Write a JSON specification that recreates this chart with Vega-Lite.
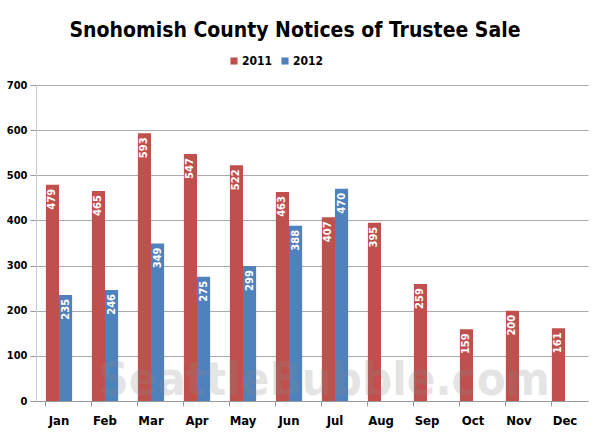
{
  "$schema": "https://vega.github.io/schema/vega-lite/v6.json",
  "autosize": {"type": "none"},
  "width": 552,
  "height": 316,
  "padding": {"left": 36, "top": 85, "right": 12, "bottom": 35},
  "background": "white",
  "config": {
    "view": {"stroke": null},
    "font": "DejaVu Sans Condensed, Liberation Sans, sans-serif"
  },
  "title": {
    "text": "Snohomish County Notices of Trustee Sale",
    "font": "DejaVu Sans Condensed, Liberation Sans, sans-serif",
    "fontSize": 21,
    "fontWeight": "bold",
    "color": "#000000",
    "anchor": "middle",
    "frame": "group",
    "dx": -17,
    "offset": 14
  },
  "data": {
    "values": [
      {"month": "Jan", "year": "2011", "value": 479},
      {"month": "Feb", "year": "2011", "value": 465},
      {"month": "Mar", "year": "2011", "value": 593},
      {"month": "Apr", "year": "2011", "value": 547},
      {"month": "May", "year": "2011", "value": 522},
      {"month": "Jun", "year": "2011", "value": 463},
      {"month": "Jul", "year": "2011", "value": 407},
      {"month": "Aug", "year": "2011", "value": 395},
      {"month": "Sep", "year": "2011", "value": 259},
      {"month": "Oct", "year": "2011", "value": 159},
      {"month": "Nov", "year": "2011", "value": 200},
      {"month": "Dec", "year": "2011", "value": 161},
      {"month": "Jan", "year": "2012", "value": 235},
      {"month": "Feb", "year": "2012", "value": 246},
      {"month": "Mar", "year": "2012", "value": 349},
      {"month": "Apr", "year": "2012", "value": 275},
      {"month": "May", "year": "2012", "value": 299},
      {"month": "Jun", "year": "2012", "value": 388},
      {"month": "Jul", "year": "2012", "value": 470}
    ]
  },
  "encoding": {
    "x": {
      "field": "month",
      "type": "nominal",
      "sort": ["Jan", "Feb", "Mar", "Apr", "May", "Jun", "Jul", "Aug", "Sep", "Oct", "Nov", "Dec"],
      "scale": {"paddingInner": 0.43, "paddingOuter": 0.215},
      "axis": {
        "title": null,
        "labelAngle": 0,
        "labelFont": "DejaVu Sans Condensed, Liberation Sans, sans-serif",
        "labelFontWeight": "bold",
        "labelFontSize": 13,
        "labelColor": "#000000",
        "labelPadding": 8,
        "bandPosition": 0,
        "tickSize": 5,
        "tickColor": "#999999",
        "domainColor": "#999999",
        "grid": false
      }
    },
    "xOffset": {"field": "year", "type": "nominal"},
    "y": {
      "field": "value",
      "type": "quantitative",
      "scale": {"domain": [0, 700]},
      "axis": {
        "title": null,
        "values": [0, 100, 200, 300, 400, 500, 600, 700],
        "labelFont": "DejaVu Sans Condensed, Liberation Sans, sans-serif",
        "labelFontWeight": "bold",
        "labelFontSize": 11,
        "labelColor": "#000000",
        "labelPadding": 3,
        "tickSize": 6,
        "tickColor": "#999999",
        "domainColor": "#cccccc",
        "gridColor": "#aaaaaa",
        "grid": true
      }
    }
  },
  "layer": [
    {
      "mark": {"type": "bar"},
      "encoding": {
        "color": {
          "field": "year",
          "type": "nominal",
          "scale": {"domain": ["2011", "2012"], "range": ["#C0504D", "#4F81BD"]},
          "legend": {
            "title": null,
            "orient": "none",
            "direction": "horizontal",
            "legendX": 192,
            "legendY": -30,
            "symbolType": "square",
            "symbolSize": 50,
            "symbolStrokeWidth": 0,
            "labelFont": "DejaVu Sans Condensed, Liberation Sans, sans-serif",
            "labelFontWeight": "bold",
            "labelFontSize": 12,
            "labelColor": "#000000",
            "labelOffset": 2,
            "columnPadding": 6
          }
        }
      }
    },
    {
      "mark": {
        "type": "text",
        "angle": 270,
        "align": "right",
        "baseline": "middle",
        "dx": -4,
        "color": "white",
        "font": "DejaVu Sans",
        "fontWeight": "bold",
        "fontSize": 10
      },
      "encoding": {
        "text": {"field": "value", "type": "quantitative"}
      }
    },
    {
      "data": {"values": [{"label": "SeattleBubble.com", "y": 0}]},
      "mark": {
        "type": "text",
        "font": "DejaVu Sans Condensed, Liberation Sans, sans-serif",
        "fontWeight": "bold",
        "fontSize": 47,
        "color": "#888888",
        "opacity": 0.22,
        "align": "center",
        "baseline": "alphabetic",
        "dy": -6,
        "x": {"expr": "width/2 + 12"}
      },
      "encoding": {
        "x": null,
        "xOffset": null,
        "y": {"field": "y", "type": "quantitative"},
        "text": {"field": "label", "type": "nominal"}
      }
    }
  ]
}
